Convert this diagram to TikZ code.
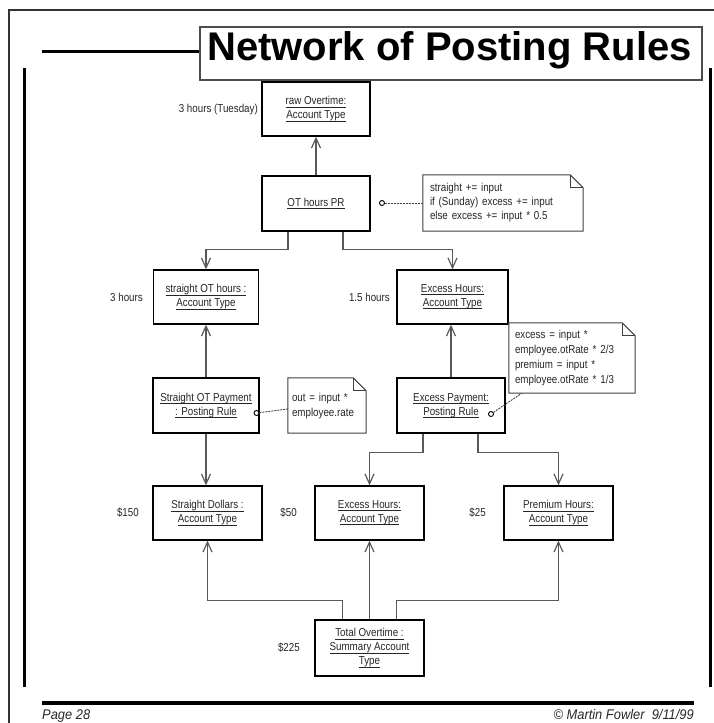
\documentclass[tikz,border=0pt]{standalone}
\usepackage{fontspec}
\setmainfont{Liberation Sans}[FakeStretch=0.85]
\newfontfamily\titlefont{Liberation Sans}
\newfontfamily\footfont{Liberation Sans}[FakeStretch=0.92]
\usetikzlibrary{arrows.meta}

% underline at a fixed depth below the baseline
\newcommand{\ulx}[1]{\setbox0\hbox{#1}\rlap{\rule[-2.6pt]{\wd0}{0.8pt}}\box0}

\tikzset{
  x=1pt, y=-1pt,
  box/.style={draw=black, line width=1.3pt, fill=white, minimum height=54pt,
    align=center, inner sep=2pt, text=black!85,
    font=\fontsize{11.5}{14}\selectfont},
  conn/.style={draw=black!65, line width=1.2pt},
  nav/.style={conn, -{Straight Barb[length=10pt,width=9pt]}},
  notetext/.style={align=left, inner ysep=0pt, text=black!85,
    font=\fontsize{11.5}{15}\selectfont},
  noteline/.style={draw=black!75, line width=1pt, fill=white},
  valuelbl/.style={anchor=east, inner sep=0pt, text=black!85,
    font=\fontsize{11.5}{14}\selectfont},
  pin/.style={circle, draw=black, line width=0.9pt, fill=white,
    minimum size=5pt, inner sep=0pt},
  dashlink/.style={draw=black!75, line width=0.9pt, dash pattern=on 2pt off 1pt},
  frame/.style={draw=black, line width=3pt},
  footer/.style={inner sep=0pt, text=black!85, font=\footfont\itshape\fontsize{14}{16}\selectfont}
}

% note with a folded top-right corner
\newcommand{\dogear}[1]{%
  \fill[white] (#1.north west) -- ([xshift=-13pt]#1.north east)
    -- ([yshift=-13pt]#1.north east) -- (#1.south east) -- (#1.south west) -- cycle;
  \draw[noteline] (#1.north west) -- ([xshift=-13pt]#1.north east)
    -- ([yshift=-13pt]#1.north east) -- (#1.south east) -- (#1.south west) -- cycle;
  \draw[noteline, fill=none] ([xshift=-13pt]#1.north east) |- ([yshift=-13pt]#1.north east);
}

\begin{document}
\begin{tikzpicture}
\useasboundingbox (0,0) rectangle (714,723);

% page frame
\draw[draw=black!80, line width=1.5pt] (9,723) -- (9,10) -- (714,10);
\draw[frame] (24,68) -- (24,687);
\draw[frame] (710,68) -- (710,687);
\draw[draw=black, line width=3.5pt] (42,703) -- (694,703);

% title
\node[draw=black!70, line width=1.2pt, fill=white, minimum width=502pt, minimum height=53pt, inner sep=0pt]
  (tbox) at (451,53.5) {};
\node[anchor=base, inner sep=0pt, font=\titlefont\bfseries\fontsize{40}{44}\selectfont]
  (ttl) at (449.5,60) {Network of Posting Rules};
\coordinate (tl) at (42,51);
\draw[frame] (tl) -- (tl -| tbox.west);

% account types and posting rules
\node[box, minimum width=108pt] (raw)  at (316,109)   {\ulx{raw Overtime:}\\\ulx{Account Type}};
\node[box, minimum width=108pt, minimum height=55pt] (otpr) at (316,203.5) {\ulx{OT hours PR}};
\node[box, minimum width=105pt] (sth)  at (206,297)   {\ulx{straight OT hours :}\\\ulx{Account Type}};
\node[box, minimum width=111pt] (exh)  at (452.5,297) {\ulx{Excess Hours:}\\\ulx{Account Type}};
\node[box, minimum width=106pt, minimum height=55pt] (sp) at (206,405.5) {\ulx{Straight OT Payment}\\\ulx{: Posting Rule}};
\node[box, minimum width=108pt, minimum height=55pt] (ep) at (451,405.5) {\ulx{Excess Payment:}\\\ulx{Posting Rule}};
\node[box, minimum width=109pt] (sd)   at (207.5,513) {\ulx{Straight Dollars :}\\\ulx{Account Type}};
\node[box, minimum width=109pt] (eh2)  at (369.5,513) {\ulx{Excess Hours:}\\\ulx{Account Type}};
\node[box, minimum width=109pt] (prem) at (558.5,513) {\ulx{Premium Hours:}\\\ulx{Account Type}};
\node[box, minimum width=109pt, minimum height=56pt] (tot) at (369.5,648)
  {\ulx{Total Overtime :}\\\ulx{Summary Account}\\\ulx{Type}};

% values
\node[valuelbl] (v1) at (258,110)  {3 hours (Tuesday)};
\node[valuelbl] (v2) at (143,297)  {3 hours};
\node[valuelbl] (v3) at (390,297)  {1.5 hours};
\node[valuelbl] (v4) at (139,513)  {\$150};
\node[valuelbl] (v5) at (297,513)  {\$50};
\node[valuelbl] (v6) at (486,513)  {\$25};
\node[valuelbl] (v7) at (300,648)  {\$225};

% connectors
\draw[nav] (otpr) -- (raw);
\draw[nav] ([xshift=-28pt]otpr.south) -- ++(0,18) -| (sth.north);
\draw[nav] ([xshift=27pt]otpr.south) -- ++(0,18) -| (exh.north);
\draw[nav] (sp) -- (sth);
\draw[nav] (ep.north) -- (ep.north |- exh.south);
\draw[nav] (sp.south) -- (sp.south |- sd.north);
\draw[nav] ([xshift=-28pt]ep.south) -- ++(0,19) -| (eh2.north);
\draw[nav] ([xshift=27pt]ep.south) -- ++(0,19) -| (prem.north);
\draw[nav] ([xshift=-27pt]tot.north) -- ++(0,-19) -| (sd.south);
\draw[nav] (tot) -- (eh2);
\draw[nav] ([xshift=27pt]tot.north) -- ++(0,-19) -| (prem.south);

% notes
\node[notetext, minimum width=160pt, minimum height=56pt] (n1) at (503,203) {};
\dogear{n1}
\node[notetext, text width=146pt, inner xsep=7pt, font=\fontsize{11.5}{14}\selectfont] (n1t) at (503,203)
  {straight += input\\if (Sunday) excess += input\\else excess += input * 0.5};

\node[notetext, minimum width=78pt, minimum height=55pt] (n2) at (327,405.5) {};
\dogear{n2}
\node[notetext, text width=70pt, inner xsep=4pt] (n2t) at (327,406.5)
  {out = input *\\employee.rate};

\node[notetext, minimum width=126pt, minimum height=70pt] (n3) at (572,358) {};
\dogear{n3}
\node[notetext, text width=114pt, inner xsep=6pt] (n3t) at (572,358)
  {excess = input *\\employee.otRate * 2/3\\premium = input *\\employee.otRate * 1/3};

% note attachments
\node[pin] (c1) at (382,203) {};
\node[pin] (c2) at (256.5,413) {};
\node[pin] (c3) at (491,414) {};
\draw[dashlink] (c1) -- (n1.west);
\draw[dashlink] (c2) -- ([yshift=-3.5pt]n2.west);
\draw[dashlink] (c3) -- ([xshift=13pt]n3.south west);

% footer
\node[footer, anchor=base west] (pg) at (42,719) {Page 28};
\node[footer, anchor=base east] (cp) at (694,719) {© Martin Fowler\ \ 9/11/99};
\end{tikzpicture}
\end{document}
